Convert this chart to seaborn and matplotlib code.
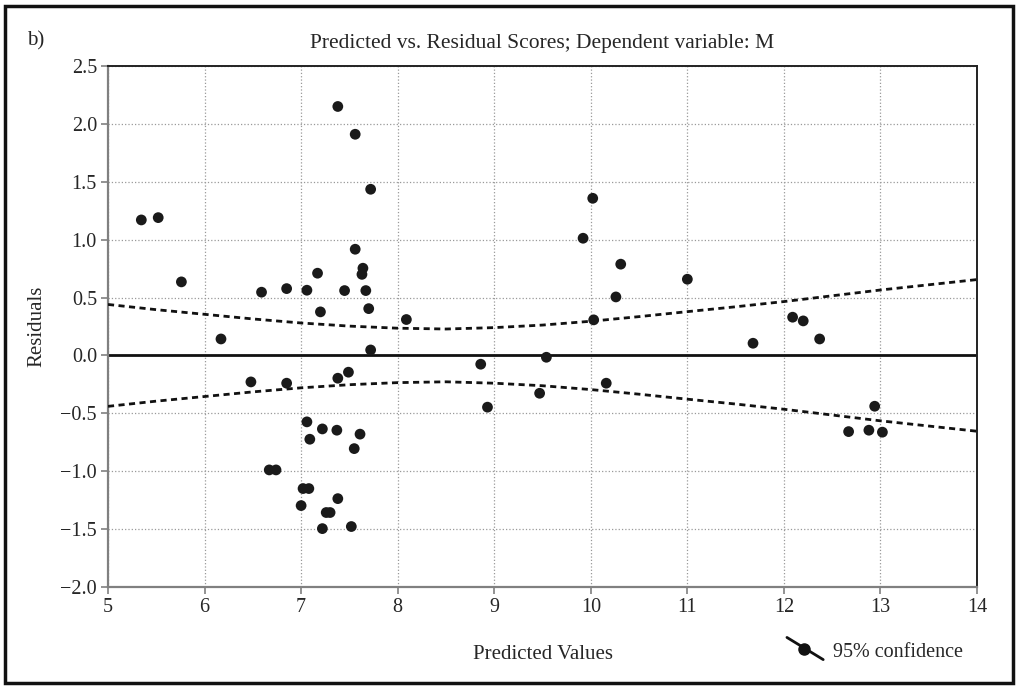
import matplotlib
matplotlib.use("Agg")
import matplotlib.pyplot as plt
import seaborn as sns
import pandas as pd
from matplotlib.lines import Line2D
from matplotlib.patches import Rectangle
from matplotlib.legend_handler import HandlerBase

# Valores predichos y residuos
predicted = [5.345, 5.52, 5.76, 6.17, 6.48, 6.59, 6.85, 6.85, 6.67, 6.74,
             7.02, 7.08, 7.00, 7.06, 7.09, 7.06, 7.17, 7.20, 7.22, 7.22,
             7.26, 7.30, 7.38, 7.37, 7.38, 7.38, 7.45, 7.49, 7.52, 7.56,
             7.56, 7.55, 7.61, 7.64, 7.63, 7.67, 7.70, 7.72, 7.72, 8.09,
             8.86, 8.93, 9.47, 9.54, 9.92, 10.02, 10.03, 10.16, 10.26, 10.31,
             11.00, 11.68, 12.09, 12.20, 12.37, 12.67, 12.88, 12.94, 13.02]
residuals = [1.17, 1.19, 0.635, 0.142, -0.229, 0.546, 0.577, -0.24, -0.989, -0.989,
             -1.15, -1.15, -1.297, -0.574, -0.724, 0.563, 0.71, 0.376, -0.635, -1.496,
             -1.357, -1.357, 2.15, -0.646, -1.237, -0.197, 0.56, -0.145, -1.478, 1.91,
             0.917, -0.805, -0.68, 0.753, 0.70, 0.56, 0.404, 1.435, 0.047, 0.31,
             -0.076, -0.447, -0.327, -0.016, 1.012, 1.357, 0.307, -0.24, 0.505, 0.788,
             0.658, 0.105, 0.33, 0.298, 0.142, -0.658, -0.646, -0.439, -0.663]

# Banda de confianza 95%
band_x = [5, 5.5, 6, 6.5, 7, 7.5, 8, 8.5, 9, 9.5, 10, 10.5, 11, 11.5, 12, 12.5, 13, 13.5, 14]
band_upper = [0.44, 0.395, 0.355, 0.315, 0.28, 0.253, 0.235, 0.228, 0.24, 0.262,
              0.295, 0.335, 0.378, 0.42, 0.465, 0.515, 0.565, 0.61, 0.655]
band_lower = [-v for v in band_upper]

x_ticks = [5, 6, 7, 8, 9, 10, 11, 12, 13, 14]
y_ticks = [-2.0, -1.5, -1.0, -0.5, 0.0, 0.5, 1.0, 1.5, 2.0, 2.5]

sns.set_style("white")
plt.rcParams['font.family'] = ['Liberation Serif', 'DejaVu Serif']
plt.rcParams['font.size'] = 14.5
plt.rcParams['axes.unicode_minus'] = True

df = pd.DataFrame({'Predicted': predicted, 'Residual': residuals})
bands = pd.DataFrame({'x': band_x, 'upper': band_upper, 'lower': band_lower})

fig = plt.figure(figsize=(10.17, 6.87), dpi=100)
ax = fig.add_axes([0.1062, 0.1456, 0.8545, 0.7584])

ax.grid(True, color='#999999', linestyle=':', linewidth=0.9)
ax.axhline(0, color='#111111', linewidth=2, zorder=2)

dash = (0, (2.2, 1.6))
sns.lineplot(data=bands, x='x', y='upper', ax=ax, color='#111111', linewidth=2,
             linestyle=dash, zorder=3)
sns.lineplot(data=bands, x='x', y='lower', ax=ax, color='#111111', linewidth=2,
             linestyle=dash, zorder=3)
sns.scatterplot(data=df, x='Predicted', y='Residual', ax=ax, color='#1a1a1a',
                s=60, edgecolor='none', zorder=4)

ax.set_xlim(5, 14)
ax.set_ylim(-2.0, 2.5)
ax.set_xticks(x_ticks)
ax.set_yticks(y_ticks)
ax.set_yticklabels([f'{v:.1f}'.replace('-', '\u2212') for v in y_ticks])
ax.tick_params(direction='out', length=5, width=1.2, color='#808080',
               labelsize=14.5, pad=3)
ax.tick_params(axis='both', which='both', bottom=True, left=True)

for side in ['left', 'bottom']:
    ax.spines[side].set_color('#808080')
    ax.spines[side].set_linewidth(1.6)
for side in ['top', 'right']:
    ax.spines[side].set_color('#222222')
    ax.spines[side].set_linewidth(1.4)

ax.set_xlabel('Predicted Values', fontsize=15, labelpad=20)
ax.set_ylabel('Residuals', fontsize=15, labelpad=10)
ax.set_title('Predicted vs. Residual Scores; Dependent variable: M', fontsize=15.5, pad=13)
fig.text(0.027, 0.941, 'b)', fontsize=15, ha='left', va='center')


# Leyenda con linea diagonal
class DiagHandler(HandlerBase):
    def create_artists(self, legend, orig_handle, xdescent, ydescent,
                       width, height, fontsize, trans):
        mid = height / 2 - ydescent
        line = Line2D([0, width], [mid + 0.6 * fontsize, mid - 0.5 * fontsize],
                      color='#111111', linewidth=2, transform=trans)
        dot = Line2D([width * 0.47], [mid + 0.05 * fontsize], marker='o', markersize=8,
                     color='#111111', linestyle='none', transform=trans)
        return [line, dot]


handle = Line2D([], [], color='#111111')
fig.legend([handle], ['95% confidence'], handler_map={Line2D: DiagHandler()},
           loc='center left', bbox_to_anchor=(0.7738, 0.0509), frameon=False,
           fontsize=14.5, handlelength=1.8, handletextpad=0.5,
           borderpad=0, borderaxespad=0)

fig.patches.append(Rectangle((0.005, 0.006), 0.991, 0.985, transform=fig.transFigure,
                             fill=False, edgecolor='#111111', linewidth=2.5))

fig.savefig('out.png', dpi=100)
